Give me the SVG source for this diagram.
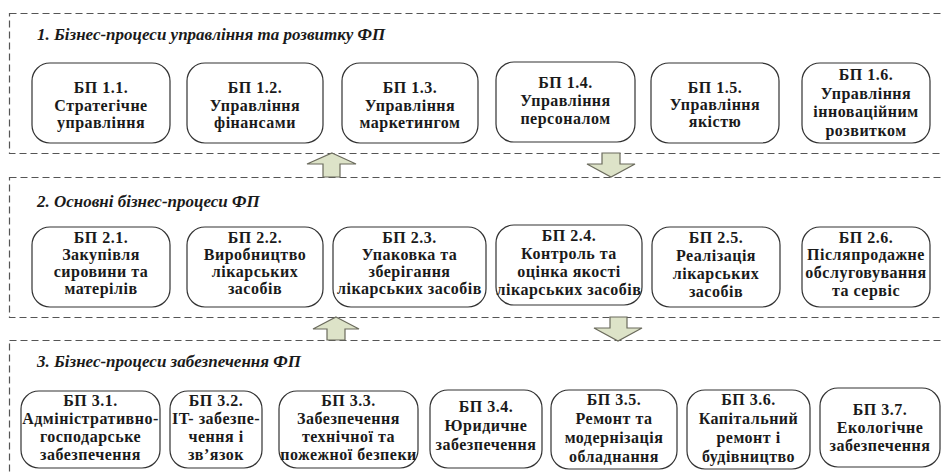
<svg xmlns="http://www.w3.org/2000/svg" width="942" height="475" viewBox="0 0 942 475">
<style>
.sec{fill:none;stroke:#555;stroke-width:1.2;stroke-dasharray:7,4}
.box{fill:#ffffff;stroke:#333;stroke-width:1.2}
.arr{fill:#dde3c8;stroke:#6a6a5c;stroke-width:1.2;stroke-linejoin:miter}
</style>
<rect x="0" y="0" width="942" height="475" fill="#ffffff"/>
<g font-family="Liberation Serif" font-weight="bold" font-style="italic" font-size="17" fill="#1a1a1a">
<g id="section1">
<rect class="sec" x="9.5" y="13.5" width="945" height="140"/>
<text x="37" y="40">1. Бізнес-процеси управління та розвитку ФП</text>
</g>
<g id="section2">
<rect class="sec" x="9.5" y="177.5" width="945" height="140"/>
<text x="37" y="207">2. Основні бізнес-процеси ФП</text>
</g>
<g id="section3">
<rect class="sec" x="9.5" y="340.5" width="945" height="160"/>
<text x="37" y="367">3. Бізнес-процеси забезпечення ФП</text>
</g>
</g>

<g font-family="Liberation Serif" font-weight="bold" font-size="16" letter-spacing="0.5" fill="#1a1a1a" text-anchor="middle">
<g id="bp1-1"><rect class="box" x="32" y="63" width="138" height="80" rx="18"/>
<text x="101" y="93">БП 1.1.</text><text x="101" y="111">Стратегічне</text><text x="101" y="128">управління</text></g>
<g id="bp1-2"><rect class="box" x="187" y="63" width="136" height="80" rx="18"/>
<text x="255" y="93">БП 1.2.</text><text x="255" y="111">Управління</text><text x="255" y="128">фінансами</text></g>
<g id="bp1-3"><rect class="box" x="342" y="63" width="136" height="80" rx="18"/>
<text x="410" y="93">БП 1.3.</text><text x="410" y="111">Управління</text><text x="410" y="128">маркетингом</text></g>
<g id="bp1-4"><rect class="box" x="496" y="62" width="139" height="80" rx="18"/>
<text x="565.5" y="88">БП 1.4.</text><text x="565.5" y="106">Управління</text><text x="565.5" y="124">персоналом</text></g>
<g id="bp1-5"><rect class="box" x="651" y="63" width="128" height="80" rx="18"/>
<text x="715" y="93">БП 1.5.</text><text x="715" y="110">Управління</text><text x="715" y="127">якістю</text></g>
<g id="bp1-6"><rect class="box" x="802" y="63" width="128" height="80" rx="18"/>
<text x="866" y="80">БП 1.6.</text><text x="866" y="98.5">Управління</text><text x="866" y="117">інноваційним</text><text x="866" y="135.5">розвитком</text></g>

<g id="bp2-1"><rect class="box" x="32" y="227" width="138" height="80" rx="18"/>
<text x="101" y="243">БП 2.1.</text><text x="101" y="260">Закупівля</text><text x="101" y="277">сировини та</text><text x="101" y="294">матерілів</text></g>
<g id="bp2-2"><rect class="box" x="187" y="227" width="136" height="80" rx="18"/>
<text x="255" y="243">БП 2.2.</text><text x="255" y="260">Виробництво</text><text x="255" y="277">лікарських</text><text x="255" y="294">засобів</text></g>
<g id="bp2-3"><rect class="box" x="333" y="227" width="153" height="80" rx="18"/>
<text x="409.5" y="243">БП 2.3.</text><text x="409.5" y="260">Упаковка та</text><text x="409.5" y="277">зберігання</text><text x="409.5" y="294">лікарських засобів</text></g>
<g id="bp2-4"><rect class="box" x="496" y="225" width="146" height="80" rx="18"/>
<text x="569" y="241">БП 2.4.</text><text x="569" y="259">Контроль та</text><text x="569" y="277">оцінка якості</text><text x="569" y="295">лікарських засобів</text></g>
<g id="bp2-5"><rect class="box" x="652" y="227" width="128" height="80" rx="18"/>
<text x="716" y="243">БП 2.5.</text><text x="716" y="261">Реалізація</text><text x="716" y="279">лікарських</text><text x="716" y="297">засобів</text></g>
<g id="bp2-6"><rect class="box" x="802" y="227" width="128" height="80" rx="18"/>
<text x="866" y="243">БП 2.6.</text><text x="866" y="260">Післяпродажне</text><text x="866" y="278">обслуговування</text><text x="866" y="296">та сервіс</text></g>

<g id="bp3-1"><rect class="box" x="21" y="391" width="139" height="77" rx="18"/>
<text x="90.5" y="406">БП 3.1.</text><text x="90.5" y="424">Адміністративно-</text><text x="90.5" y="442">господарське</text><text x="90.5" y="460">забезпечення</text></g>
<g id="bp3-2"><rect class="box" x="170" y="391" width="92" height="77" rx="18"/>
<text x="216" y="406">БП 3.2.</text><text x="216" y="424">IT- забезпе-</text><text x="216" y="442">чення і</text><text x="216" y="460">зв’язок</text></g>
<g id="bp3-3"><rect class="box" x="279" y="391" width="139" height="77" rx="18"/>
<text x="348.5" y="406">БП 3.3.</text><text x="348.5" y="424">Забезпечення</text><text x="348.5" y="442">технічної та</text><text x="348.5" y="460">пожежної безпеки</text></g>
<g id="bp3-4"><rect class="box" x="430" y="390" width="112" height="78" rx="18"/>
<text x="486" y="412">БП 3.4.</text><text x="486" y="431">Юридичне</text><text x="486" y="450">забезпечення</text></g>
<g id="bp3-5"><rect class="box" x="551" y="390" width="126" height="79" rx="18"/>
<text x="614" y="405">БП 3.5.</text><text x="614" y="424">Ремонт та</text><text x="614" y="443">модернізація</text><text x="614" y="462">обладнання</text></g>
<g id="bp3-6"><rect class="box" x="687" y="390" width="123" height="79" rx="18"/>
<text x="748.5" y="405">БП 3.6.</text><text x="748.5" y="424">Капітальний</text><text x="748.5" y="443">ремонт і</text><text x="748.5" y="462">будівництво</text></g>
<g id="bp3-7"><rect class="box" x="820" y="388" width="120" height="79" rx="18"/>
<text x="880" y="415">БП 3.7.</text><text x="880" y="433">Екологічне</text><text x="880" y="451">забезпечення</text></g>
</g>

<g id="connectors">
<polygon class="arr" points="332,153 356,164 340,164 340,177 323,177 323,164 307,164"/>
<polygon class="arr" points="602,153 620,153 620,164 635,164 611,177 587,164 602,164"/>
<polygon class="arr" points="336,317 359,329 345,329 345,340 327,340 327,329 313,329"/>
<polygon class="arr" points="610,317 627,317 627,328 642,328 618,341 594,328 610,328"/>
</g>
</svg>
